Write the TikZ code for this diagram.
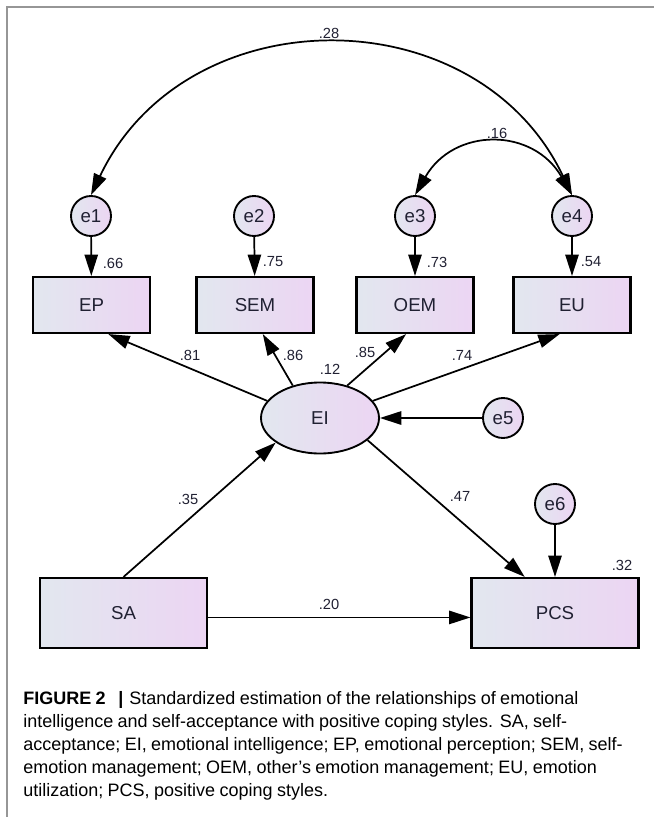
\documentclass[tikz,border=0pt]{standalone}
\usepackage{fontspec}
\setmainfont{Liberation Sans}
\usetikzlibrary{arrows.meta,shapes.geometric}

\definecolor{boxleft}{RGB}{226,231,239}
\definecolor{boxright}{RGB}{236,213,243}
\definecolor{labelink}{RGB}{32,32,50}
\definecolor{framegray}{RGB}{150,150,150}

\begin{document}
\begin{tikzpicture}[x=0.75pt, y=-0.75pt,
    observed/.style={draw, line width=1.6pt, left color=boxleft, right color=boxright,
        minimum width=87.75pt, minimum height=42pt, inner sep=0pt, text=labelink,
        font=\fontsize{14}{16}\selectfont},
    bigobserved/.style={observed, minimum width=125.25pt, minimum height=52.5pt},
    latent/.style={ellipse, draw, line width=1.4pt, left color=boxleft, right color=boxright,
        minimum width=88.5pt, minimum height=53.25pt, inner sep=0pt, text=labelink,
        font=\fontsize{14}{16}\selectfont},
    errterm/.style={circle, draw, line width=1.4pt, left color=boxleft, right color=boxright,
        minimum size=30pt, inner sep=0pt, text=labelink, font=\fontsize{14}{16}\selectfont},
    regpath/.style={line width=1.3pt, -{Triangle[length=16pt,width=10pt]}},
    cov/.style={line width=1.3pt, {Triangle[length=16pt,width=10pt]}-{Triangle[length=16pt,width=10pt]}},
    coef/.style={font=\fontsize{11}{12}\selectfont, text=labelink, inner sep=0pt}]
    \useasboundingbox (0,0) rectangle (654,817);

    % Frame
    \draw [framegray, line width=1.1pt] (7,817) -- (7,7) -- (654,7);

    % Indicators
    \node [observed] (EP) at (91.5,305) {EP};
    \node [observed] (SEM) at (255,305) {SEM};
    \node [observed] (OEM) at (415,305) {OEM};
    \node [observed] (EU) at (572,305) {EU};

    % Error terms
    \node [errterm] (e1) at (91,216) {e1};
    \node [errterm] (e2) at (254,216) {e2};
    \node [errterm] (e3) at (415,216) {e3};
    \node [errterm] (e4) at (572,216) {e4};
    \node [errterm] (e5) at (503,418) {e5};
    \node [errterm] (e6) at (555,504) {e6};

    % Latent and observed variables
    \node [latent] (EI) at (320,418) {EI};
    \node [bigobserved] (SA) at (123.5,613) {SA};
    \node [bigobserved] (PCS) at (555,613) {PCS};

    % Covariances
    \draw [cov] (e1.north) .. controls +(95,-200) and +(-95,-200) .. (e4.north);
    \draw [cov] (e3.north) .. controls +(39,-68) and +(-39,-68) .. (e4.north);

    % Measurement errors
    \draw [regpath] (e1) -- (EP);
    \draw [regpath] (e2) -- (SEM);
    \draw [regpath] (e3) -- (OEM);
    \draw [regpath] (e4) -- (EU);
    \draw [regpath] (e5) -- (EI);
    \draw [regpath] (e6) -- (PCS);

    % Loadings
    \draw [regpath] (EI.162) -- (EP.-60);
    \draw [regpath] (EI.130) -- (SEM.-75);
    \draw [regpath] (EI.50) -- (OEM.-107);
    \draw [regpath] (EI.18) -- (EU.-113);

    % Structural paths
    \draw [regpath] (SA.north) -- (EI.-151);
    \draw [regpath] (EI.-25) -- (PCS.130);
    \draw [regpath] (SA.-3) -- (PCS.183);

    % Estimates
    \node [coef] (c28) at (329,33) {.28};
    \node [coef] (c16) at (497,133) {.16};
    \node [coef] (c66) at (113,263) {.66};
    \node [coef] (c75) at (273,262) {.75};
    \node [coef] (c73) at (437,262) {.73};
    \node [coef] (c54) at (591,262) {.54};
    \node [coef] (c81) at (190,355) {.81};
    \node [coef] (c86) at (293,355) {.86};
    \node [coef] (c12) at (330,369) {.12};
    \node [coef] (c85) at (365,352) {.85};
    \node [coef] (c74) at (462,355) {.74};
    \node [coef] (c35) at (188,499) {.35};
    \node [coef] (c47) at (460,496) {.47};
    \node [coef] (c32) at (622,565) {.32};
    \node [coef] (c20) at (329,604) {.20};

    % Caption
    \node [anchor=north west, align=left, inner sep=0pt, text width=480pt] (caption) at (23,691)
        {\fontsize{13.5}{17.25}\selectfont
        {\bfseries FIGURE 2}\hspace{9.5pt}{\bfseries |}\hspace{4.5pt}Standardized estimation of the relationships of emotional\\
        intelligence and self-acceptance with positive coping styles. SA, self-\\
        acceptance; EI, emotional intelligence; EP, emotional perception; SEM, self-\\
        emotion management; OEM, other’s emotion management; EU, emotion\\
        utilization; PCS, positive coping styles.\par};
\end{tikzpicture}
\end{document}
